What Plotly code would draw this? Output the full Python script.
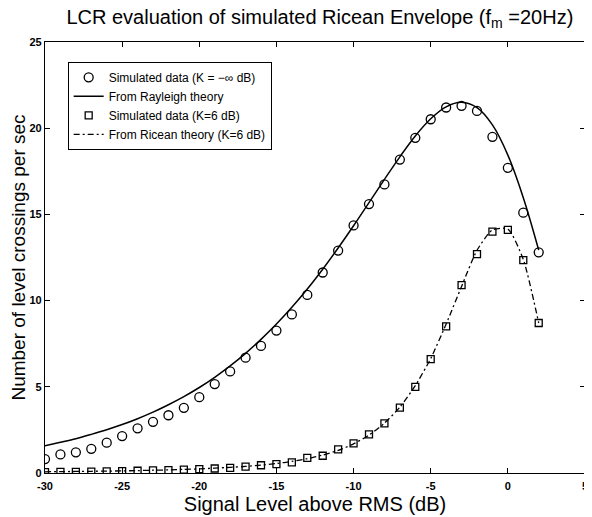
import plotly.graph_objects as go

# Signal level (dB) grid
levels_db = [-30, -29, -28, -27, -26, -25, -24, -23, -22, -21, -20, -19, -18, -17, -16,
             -15, -14, -13, -12, -11, -10, -9, -8, -7, -6, -5, -4, -3, -2, -1, 0, 1, 2]

# Simulated data, K = -inf dB (circles)
sim_rayleigh = [0.81, 1.08, 1.20, 1.40, 1.76, 2.14, 2.59, 2.97, 3.35, 3.78, 4.40, 5.16, 5.89,
                6.69, 7.37, 8.26, 9.20, 10.33, 11.63, 12.90, 14.36, 15.60, 16.74, 18.18,
                19.44, 20.52, 21.20, 21.30, 21.00, 19.50, 17.70, 15.10, 12.80]

# Rayleigh theory (solid line)
theory_rayleigh = [1.58, 1.78, 1.99, 2.24, 2.51, 2.81, 3.15, 3.53, 3.96, 4.43, 4.96, 5.55, 6.21,
                   6.94, 7.75, 8.64, 9.61, 10.67, 11.82, 13.05, 14.34, 15.68, 17.03, 18.34,
                   19.55, 20.55, 21.24, 21.50, 21.19, 20.19, 18.44, 15.97, 12.93]

# Simulated data, K = 6 dB (squares)
sim_ricean = [0.05, 0.06, 0.07, 0.08, 0.10, 0.11, 0.13, 0.15, 0.17, 0.19, 0.22, 0.26, 0.30,
              0.37, 0.45, 0.52, 0.62, 0.88, 1.00, 1.37, 1.72, 2.24, 2.88, 3.79, 5.00, 6.60,
              8.50, 10.90, 12.70, 14.00, 14.10, 12.35, 8.70]

# Ricean theory, K = 6 dB (dash-dot line)
theory_ricean = [0.07, 0.08, 0.09, 0.10, 0.11, 0.12, 0.14, 0.16, 0.18, 0.21, 0.24, 0.28, 0.33,
                 0.38, 0.46, 0.55, 0.67, 0.83, 1.04, 1.31, 1.69, 2.20, 2.89, 3.82, 5.07, 6.64,
                 8.64, 10.82, 12.92, 14.10, 14.15, 12.39, 8.70]

x_ticks = [-30, -25, -20, -15, -10, -5, 0, 5]
y_ticks = [0, 5, 10, 15, 20, 25]

FONT = "Liberation Sans, Arial, Helvetica, sans-serif"

fig = go.Figure()
fig.add_trace(go.Scatter(
    x=levels_db, y=sim_rayleigh, mode="markers",
    name="Simulated data (K = −∞ dB)",
    marker=dict(symbol="circle-open", size=9, color="black", line=dict(width=1.3)),
))
fig.add_trace(go.Scatter(
    x=levels_db, y=theory_rayleigh, mode="lines",
    name="From Rayleigh theory",
    line=dict(color="black", width=1.5, shape="spline"),
))
fig.add_trace(go.Scatter(
    x=levels_db, y=sim_ricean, mode="markers",
    name="Simulated data (K=6 dB)",
    marker=dict(symbol="square-open", size=7, color="black", line=dict(width=1.3)),
))
fig.add_trace(go.Scatter(
    x=levels_db, y=theory_ricean, mode="lines",
    name="From Ricean theory (K=6 dB)",
    line=dict(color="black", width=1.3, dash="6px,3px,2px,3px", shape="spline",
              smoothing=0.6),
))

axis_common = dict(
    showline=True, linecolor="black", linewidth=1.2, mirror="allticks",
    ticks="inside", ticklen=5, tickcolor="black", tickwidth=1,
    showgrid=False, zeroline=False,
    tickfont=dict(family=FONT, size=11, color="black", weight="bold"),
)

fig.update_layout(
    width=584, height=509,
    paper_bgcolor="white", plot_bgcolor="white",
    margin=dict(l=35, r=4, t=34, b=44),
    title=dict(
        text="LCR evaluation of simulated Ricean Envelope (f<sub>m</sub> =20Hz)",
        x=0.534, xanchor="center", y=0.982, yanchor="middle",
        font=dict(family=FONT, size=20, color="black"),
    ),
    xaxis=dict(
        range=[-30, 5], tickvals=x_ticks, ticktext=[str(v) for v in x_ticks],
        ticklabelstandoff=3,
        title=dict(text="Signal Level above RMS (dB)", standoff=5,
                   font=dict(family=FONT, size=20, color="black")),
        **axis_common,
    ),
    yaxis=dict(
        range=[0, 25], tickvals=y_ticks, ticktext=[str(v) for v in y_ticks],
        title=dict(text="Number of level crossings per sec", standoff=4,
                   font=dict(family=FONT, size=19, color="black")),
        **axis_common,
    ),
    legend=dict(
        x=0.042, y=0.954, xanchor="left", yanchor="top",
        bgcolor="white", bordercolor="black", borderwidth=1,
        font=dict(family=FONT, size=12, color="black"),
        tracegroupgap=0, itemwidth=30,
    ),
    showlegend=True,
)

fig.write_html("out.html")
